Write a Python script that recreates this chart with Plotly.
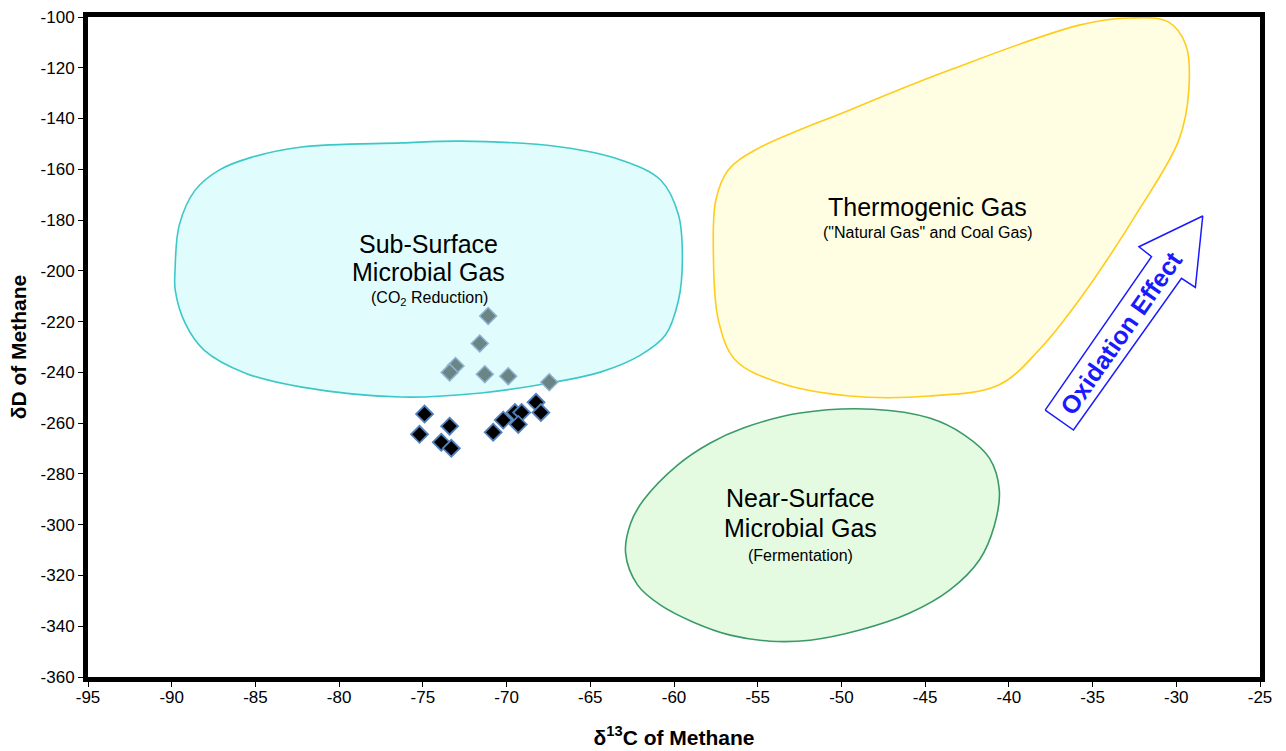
import plotly.graph_objects as go

# ---- data ----
co2_red_x = [-71.1, -71.6, -73.05, -73.4, -71.3, -69.9, -67.45]
co2_red_y = [-217.8, -228.6, -237.5, -240.0, -240.7, -241.5, -243.9]

samples_x = [-74.9, -75.2, -73.4, -73.9, -73.3, -70.8, -70.2, -69.5, -69.1, -69.3, -68.24, -67.95]
samples_y = [-256.4, -264.4, -261.2, -267.5, -269.9, -263.6, -258.8, -255.8, -255.8, -260.5, -251.8, -255.8]

# region outlines (data coordinates)
sub_x = [-89.8, -89.55, -88.6, -87.17, -85.2, -82.23, -76.28, -72.71, -66.76, -63.18, -60.8, -59.73, -59.5,
         -59.73, -60.51, -62.0, -64.4, -67.47, -71.52, -76.28, -82.23, -85.6, -88.07, -89.2, -89.79]
sub_y = [-199.7, -182.0, -168.2, -160.3, -155.2, -151.2, -149.6, -148.9, -151.2, -156.3, -164.2, -178.0, -195.7,
         -211.5, -225.3, -233.2, -239.9, -244.2, -248.1, -249.7, -245.8, -240.3, -231.2, -220.6, -207.6]

thermo_x = [-57.65, -57.5, -56.76, -55.15, -49.5, -43.54, -35.8, -32.83, -30.45, -29.43, -29.25, -29.85, -32.23,
            -35.8, -38.2, -40.6, -44.73, -49.5, -53.66, -56.34, -57.35]
thermo_y = [-191.8, -172.1, -160.3, -152.4, -136.6, -120.9, -103.2, -100.4, -102.0, -111.0, -128.8, -148.5, -176.0,
            -211.5, -231.2, -245.0, -249.3, -249.3, -244.2, -235.1, -219.4]

near_x = [-62.89, -62.59, -61.82, -59.79, -57.83, -55.86, -52.47, -48.12, -44.73, -42.65, -41.16, -40.57,
          -40.86, -41.76, -43.54, -45.92, -48.9, -51.87, -54.26, -56.64, -58.84, -60.8, -62.17]
near_y = [-311.2, -299.4, -290.3, -276.5, -267.8, -261.9, -256.0, -254.5, -258.0, -264.7, -273.8, -286.4,
          -300.2, -313.9, -325.8, -334.8, -341.5, -345.5, -345.9, -343.5, -338.4, -331.7, -323.8]

arrow_x = [-37.83, -36.14, -29.69, -28.86, -28.42, -32.23, -31.48, -37.83]
arrow_y = [-254.85, -262.7, -202.96, -206.5, -178.4, -190.5, -194.4, -254.85]

x_range = [-95, -25]
y_range = [-360, -100]
x_ticks = [-95, -90, -85, -80, -75, -70, -65, -60, -55, -50, -45, -40, -35, -30, -25]
x_ticktext = ["-95", "-90", "-85", "-80", "-75", "-70", "-65", "-60", "-55", "-50", "-45", "-40", "-35", "-30", "-25"]
y_ticks = [-360, -340, -320, -300, -280, -260, -240, -220, -200, -180, -160, -140, -120, -100]
y_ticktext = ["-360", "-340", "-320", "-300", "-280", "-260", "-240", "-220", "-200", "-180", "-160", "-140", "-120", "-100"]

FONT = "Liberation Sans, Arial, sans-serif"

fig = go.Figure()

def region(xs, ys, fill, line):
    fig.add_trace(go.Scatter(
        x=xs + xs[:1], y=ys + ys[:1], mode="lines", fill="toself",
        fillcolor=fill, line=dict(color=line, width=1.6, shape="spline", smoothing=1.0),
        hoverinfo="skip", showlegend=False))

region(sub_x, sub_y, "#e0fcfc", "#3cc8c8")
region(thermo_x, thermo_y, "#fffee2", "#ffcc1a")
region(near_x, near_y, "#e4fbe2", "#3a9a68")

fig.add_trace(go.Scatter(
    x=arrow_x, y=arrow_y, mode="lines", fill="toself", fillcolor="white",
    line=dict(color="#1a1aff", width=1.5), hoverinfo="skip", showlegend=False))

fig.add_trace(go.Scatter(
    x=co2_red_x, y=co2_red_y, mode="markers", showlegend=False,
    marker=dict(symbol="diamond", size=13, color="#6b8585",
                line=dict(color="#8fb3d3", width=1.5))))
fig.add_trace(go.Scatter(
    x=samples_x, y=samples_y, mode="markers", showlegend=False,
    marker=dict(symbol="diamond", size=13, color="black",
                line=dict(color="#4f81bd", width=1.8))))

def label(x, y, text, size, **kw):
    fig.add_annotation(x=x, y=y, text=text, showarrow=False,
                       font=dict(family=FONT, size=size, color="black"), **kw)

label(-74.67, -189.4, "Sub-Surface", 25)
label(-74.67, -200.5, "Microbial Gas", 25)
label(-74.6, -210.7, "(CO<sub>2</sub> Reduction)", 16)

label(-44.85, -174.9, "Thermogenic Gas", 25)
label(-44.85, -184.7, "(\"Natural Gas\" and Coal Gas)", 16)

label(-52.47, -289.5, "Near-Surface", 25)
label(-52.47, -301.3, "Microbial Gas", 25)
label(-52.47, -312.0, "(Fermentation)", 16)

fig.add_annotation(x=-33.3, y=-224.5, text="<b>Oxidation Effect</b>", showarrow=False,
                   textangle=-55, font=dict(family=FONT, size=25, color="#1a1aff"))

axis_common = dict(showgrid=False, zeroline=False, showline=True, linecolor="black",
                   linewidth=5, mirror=True, ticks="outside", ticklen=5, tickwidth=1,
                   tickcolor="black", automargin=False,
                   tickfont=dict(family=FONT, size=17, color="black"))

fig.update_xaxes(range=x_range, tickvals=x_ticks, ticktext=x_ticktext, ticklabelstandoff=-4,
                 title=dict(text="<b>δ<sup>13</sup>C of Methane</b>", standoff=25,
                            font=dict(family=FONT, size=21, color="black")),
                 **axis_common)
fig.update_yaxes(range=y_range, tickvals=y_ticks, ticktext=y_ticktext,
                 title=dict(text="<b>δD of Methane</b>", standoff=10,
                            font=dict(family=FONT, size=21, color="black")),
                 **axis_common)

fig.update_layout(width=1286, height=751, plot_bgcolor="white", paper_bgcolor="white",
                  margin=dict(l=88, r=26, t=17, b=74), showlegend=False)

fig.write_html("out.html")
